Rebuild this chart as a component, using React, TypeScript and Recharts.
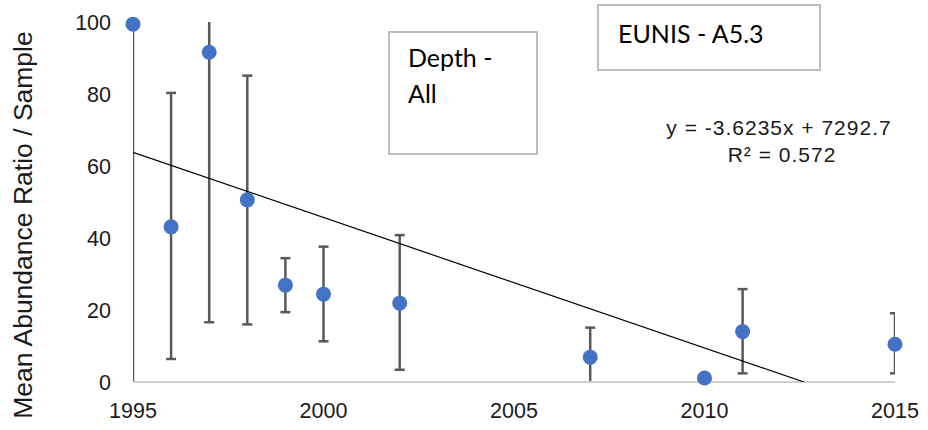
import React from 'react';
import { ScatterChart, Scatter, XAxis, YAxis, ErrorBar } from 'recharts';

// Data
const years = [1995, 1996, 1997, 1998, 1999, 2000, 2002, 2007, 2010, 2011, 2015];
const means = [99.4, 43.1, 91.6, 50.6, 26.9, 24.4, 21.9, 6.9, 1.1, 14.0, 10.5];
const lows = [-3, 6.4, 16.6, 16.0, 19.4, 11.3, 3.4, -3, 1.1, 2.4, 2.4];
const highs = [99.4, 80.3, 101, 85.1, 34.4, 37.6, 40.8, 15.1, 1.1, 25.8, 19.1];

const xTicks = [1995, 2000, 2005, 2010, 2015];
const yTicks = [0, 20, 40, 60, 80, 100];

const trendSlope = -3.6235;
const trendIntercept = 7292.7;
const trendStartX = 1995;

const equationText = 'y = -3.6235x + 7292.7';
const r2Text = 'R² = 0.572';
const yLabel = 'Mean Abundance  Ratio / Sample';
const depthLines = ['Depth -', 'All'];
const eunisText = 'EUNIS - A5.3';

const points = years.map((y, i) => ({
  x: y,
  y: means[i],
  err: [means[i] - lows[i], highs[i] - means[i]],
}));

const trendEndX = trendIntercept / -trendSlope;
const trendData = [
  { x: trendStartX, y: trendSlope * trendStartX + trendIntercept },
  { x: trendEndX, y: 0 },
];

const W = 928;
const H = 430;
const M = { top: 22, right: 33, bottom: 0, left: 0 };
const Y_AXIS_W = 133;
const X_AXIS_H = 48;
const plot = {
  x: M.left + Y_AXIS_W,
  y: M.top,
  w: W - M.left - Y_AXIS_W - M.right,
  h: H - M.top - M.bottom - X_AXIS_H,
};

const tickStyle = { fontFamily: '"Liberation Sans", Arial, sans-serif', fontSize: 21.5, fill: '#1a1a1a' };

const Dot = (props: any) => {
  const { cx, cy } = props;
  if (cx == null || cy == null) return <g />;
  return <circle cx={cx} cy={cy} r={7.5} fill="#4472C4" />;
};

const Empty = () => <g />;

export default function App() {
  return (
    <div style={{ position: 'absolute', left: 0, top: 0, width: W, height: H, background: '#fff' }}>
      <style>{`.recharts-errorBar line { clip-path: url(#plotClipArea); }`}</style>
      <svg width={0} height={0} style={{ position: 'absolute' }}>
        <defs>
          <clipPath id="plotClipArea" clipPathUnits="userSpaceOnUse">
            <rect x={plot.x} y={plot.y} width={plot.w} height={plot.h} />
          </clipPath>
        </defs>
      </svg>
      <ScatterChart width={W} height={H} margin={M}>
        <XAxis
          type="number"
          dataKey="x"
          domain={[1995, 2015]}
          ticks={xTicks}
          tick={tickStyle}
          tickLine={false}
          tickSize={0}
          tickMargin={21}
          height={X_AXIS_H}
          axisLine={{ stroke: '#cfcfcf', strokeWidth: 2 }}
          allowDecimals={false}
        />
        <XAxis
          xAxisId="clip"
          type="number"
          dataKey="x"
          domain={[1995, 2015]}
          allowDataOverflow
          hide
        />
        <YAxis
          type="number"
          dataKey="y"
          domain={[0, 100]}
          ticks={yTicks}
          tick={tickStyle}
          tickLine={false}
          axisLine={false}
          tickSize={0}
          tickMargin={22}
          width={Y_AXIS_W}
        />
        <YAxis
          yAxisId="clip"
          type="number"
          dataKey="y"
          domain={[0, 100]}
          allowDataOverflow
          hide
        />
        <Scatter
          data={trendData}
          xAxisId="clip"
          yAxisId="clip"
          shape={Empty}
          line={{ stroke: '#000', strokeWidth: 1.2 }}
          isAnimationActive={false}
        />
        <Scatter data={points} xAxisId="clip" yAxisId="clip" shape={Empty} isAnimationActive={false}>
          <ErrorBar dataKey="err" direction="y" width={5} stroke="#595959" strokeWidth={2.5} isAnimationActive={false} />
        </Scatter>
        <Scatter data={points} shape={Dot} isAnimationActive={false} />
      </ScatterChart>
      <svg
        width={W}
        height={H}
        style={{ position: 'absolute', left: 0, top: 0, pointerEvents: 'none' }}
      >
        <text
          transform="translate(32, 225) rotate(-90)"
          textAnchor="middle"
          style={{ fontFamily: '"Liberation Sans", Arial, sans-serif', fontSize: 26.5, fill: '#1a1a1a' }}
        >
          {yLabel}
        </text>
        <rect x={389} y={32} width={148} height={122} fill="#fff" stroke="#bfbfbf" strokeWidth={2} />
        {depthLines.map((t, i) => (
          <text
            key={t}
            x={408}
            y={67 + i * 36}
            style={{ fontFamily: 'Lato, "Open Sans", sans-serif', fontSize: 25, fill: '#000' }}
          >
            {t}
          </text>
        ))}
        <rect x={598} y={5} width={222} height={65} fill="#fff" stroke="#bfbfbf" strokeWidth={2} />
        <text
          x={618}
          y={43}
          style={{ fontFamily: 'Lato, "Open Sans", sans-serif', fontSize: 25, fill: '#000' }}
        >
          {eunisText}
        </text>
        <text
          x={779}
          y={135}
          textAnchor="middle"
          style={{ fontFamily: '"Liberation Sans", Arial, sans-serif', fontSize: 21, letterSpacing: 1, fill: '#1a1a1a' }}
        >
          {equationText}
        </text>
        <text
          x={782}
          y={162}
          textAnchor="middle"
          style={{ fontFamily: '"Liberation Sans", Arial, sans-serif', fontSize: 21, letterSpacing: 1, fill: '#1a1a1a' }}
        >
          {r2Text}
        </text>
      </svg>
    </div>
  );
}
